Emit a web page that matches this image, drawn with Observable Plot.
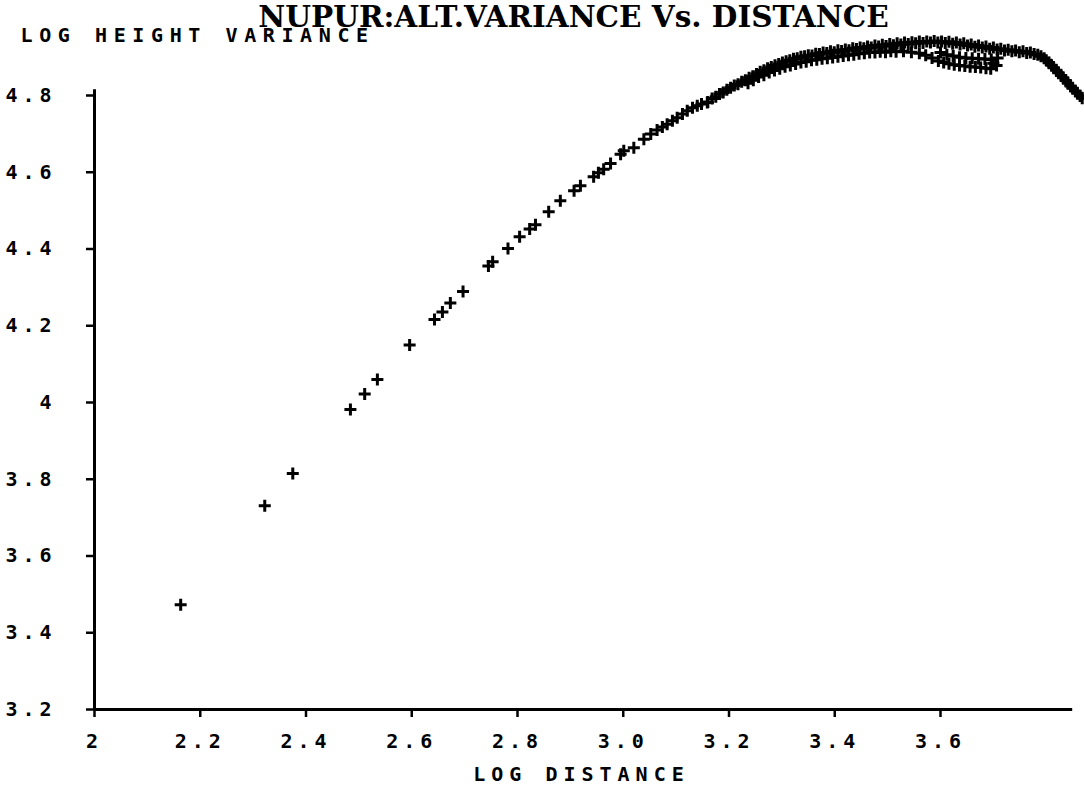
<!DOCTYPE html>
<html><head><meta charset="utf-8">
<script src="https://cdn.jsdelivr.net/npm/d3@7"></script>
<script src="https://cdn.jsdelivr.net/npm/@observablehq/plot@0.6"></script>
<style>
html,body{margin:0;padding:0;background:#fff;}
#chart svg{display:block;}
</style></head><body><div id="chart"></div>
<script>
const titleText = "NUPUR:ALT.VARIANCE Vs. DISTANCE";
const xTitle = "LOG DISTANCE";
const yTitle = "LOG HEIGHT VARIANCE";
const xTicks = [2, 2.2, 2.4, 2.6, 2.8, 3.0, 3.2, 3.4, 3.6];
const xTickLabels = ["2", "2.2", "2.4", "2.6", "2.8", "3.0", "3.2", "3.4", "3.6"];
const yTicks = [3.2, 3.4, 3.6, 3.8, 4.0, 4.2, 4.4, 4.6, 4.8];
const yTickLabels = ["3.2", "3.4", "3.6", "3.8", "4", "4.2", "4.4", "4.6", "4.8"];
const xAxisExtent = [2, 3.85];
const yAxisExtent = [3.2, 4.815];

const sparsePoints = [
  [2.163, 3.473], [2.322, 3.731], [2.375, 3.815], [2.484, 3.982], [2.511, 4.022],
  [2.535, 4.060], [2.596, 4.150], [2.643, 4.216], [2.658, 4.236], [2.673, 4.259],
  [2.697, 4.289], [2.745, 4.356], [2.753, 4.367]
];
const risingPoints = [
  [2.782, 4.401], [2.804, 4.432], [2.823, 4.452], [2.834, 4.463], [2.859, 4.497],
  [2.881, 4.526], [2.907, 4.552], [2.919, 4.565], [2.944, 4.588], [2.953, 4.599],
  [2.963, 4.608], [2.976, 4.623], [2.995, 4.647], [3.001, 4.656], [3.020, 4.664],
  [3.039, 4.686], [3.052, 4.700], [3.064, 4.710], [3.074, 4.718], [3.083, 4.725],
  [3.093, 4.734], [3.102, 4.742], [3.112, 4.752], [3.121, 4.760], [3.131, 4.768],
  [3.140, 4.773], [3.148, 4.778], [3.159, 4.782]
];
const upperRowPoints = [
  [3.160, 4.783], [3.168, 4.792], [3.175, 4.797], [3.182, 4.804], [3.189, 4.808],
  [3.196, 4.815], [3.203, 4.820], [3.210, 4.826], [3.217, 4.829], [3.224, 4.836],
  [3.231, 4.840], [3.238, 4.846], [3.245, 4.850], [3.252, 4.856], [3.259, 4.862],
  [3.266, 4.866], [3.273, 4.871], [3.280, 4.874], [3.287, 4.879], [3.294, 4.882],
  [3.301, 4.886], [3.308, 4.889], [3.315, 4.892], [3.322, 4.896], [3.329, 4.897],
  [3.336, 4.901], [3.343, 4.902], [3.350, 4.905], [3.357, 4.904], [3.364, 4.909],
  [3.371, 4.908], [3.378, 4.912], [3.385, 4.911], [3.392, 4.915], [3.399, 4.913],
  [3.406, 4.918], [3.413, 4.916], [3.420, 4.920], [3.427, 4.918], [3.434, 4.923],
  [3.441, 4.921], [3.448, 4.925], [3.455, 4.923], [3.462, 4.928], [3.469, 4.925],
  [3.476, 4.930], [3.483, 4.928], [3.490, 4.932], [3.497, 4.929], [3.504, 4.934],
  [3.511, 4.931], [3.518, 4.936], [3.525, 4.933], [3.532, 4.938], [3.539, 4.934],
  [3.546, 4.939], [3.553, 4.936], [3.560, 4.941], [3.567, 4.937], [3.574, 4.941],
  [3.581, 4.938], [3.588, 4.942], [3.595, 4.938], [3.602, 4.941], [3.609, 4.937],
  [3.616, 4.940], [3.623, 4.935], [3.630, 4.938], [3.637, 4.933], [3.644, 4.936],
  [3.651, 4.930], [3.658, 4.933], [3.665, 4.927], [3.672, 4.930], [3.679, 4.925],
  [3.686, 4.928], [3.693, 4.922], [3.700, 4.925], [3.707, 4.920], [3.714, 4.922],
  [3.721, 4.917], [3.728, 4.919], [3.735, 4.915], [3.742, 4.917], [3.749, 4.913],
  [3.756, 4.915], [3.763, 4.911], [3.770, 4.912], [3.777, 4.908], [3.784, 4.906],
  [3.790, 4.902], [3.796, 4.897]
];
const middleRowPoints = [
  [3.600, 4.912], [3.612, 4.906], [3.624, 4.903], [3.636, 4.900], [3.648, 4.898],
  [3.660, 4.897], [3.672, 4.896], [3.684, 4.895], [3.696, 4.894], [3.708, 4.898]
];
const lowerRowPoints = [
  [3.236, 4.832], [3.246, 4.840], [3.256, 4.848], [3.266, 4.853], [3.276, 4.860],
  [3.286, 4.865], [3.296, 4.870], [3.306, 4.875], [3.316, 4.878], [3.326, 4.882],
  [3.336, 4.886], [3.346, 4.888], [3.356, 4.892], [3.366, 4.893], [3.376, 4.896],
  [3.386, 4.897], [3.396, 4.899], [3.406, 4.901], [3.416, 4.903], [3.426, 4.905],
  [3.436, 4.906], [3.446, 4.909], [3.456, 4.910], [3.466, 4.912], [3.476, 4.912],
  [3.486, 4.914], [3.496, 4.913], [3.506, 4.915], [3.516, 4.914], [3.530, 4.915],
  [3.545, 4.913], [3.560, 4.910], [3.572, 4.905], [3.584, 4.898], [3.596, 4.890],
  [3.606, 4.886], [3.616, 4.883], [3.626, 4.880], [3.636, 4.878], [3.646, 4.877],
  [3.656, 4.875], [3.666, 4.874], [3.676, 4.873], [3.686, 4.871], [3.695, 4.870],
  [3.700, 4.884], [3.706, 4.878]
];
const fallingPoints = [
  [3.800, 4.892], [3.805, 4.886], [3.810, 4.879], [3.814, 4.872], [3.819, 4.866],
  [3.823, 4.859], [3.828, 4.852], [3.832, 4.846], [3.837, 4.839], [3.841, 4.832],
  [3.846, 4.825], [3.850, 4.819], [3.855, 4.812], [3.859, 4.806], [3.864, 4.799],
  [3.868, 4.793]
];

const allPoints = [].concat(sparsePoints, risingPoints, upperRowPoints, middleRowPoints, lowerRowPoints, fallingPoints);
const xLabelMap = new Map(xTicks.map((t, i) => [t, xTickLabels[i]]));
const yLabelMap = new Map(yTicks.map((t, i) => [t, yTickLabels[i]]));

const plusSymbol = {
  draw(ctx, size) {
    const r = Math.sqrt(size / Math.PI);
    ctx.moveTo(-r, 0); ctx.lineTo(r, 0);
    ctx.moveTo(0, -r); ctx.lineTo(0, r);
  }
};

const mono = "'DejaVu Sans Mono', monospace";
const chart = Plot.plot({
  width: 1084, height: 795,
  marginLeft: 94, marginRight: 144, marginTop: 95, marginBottom: 86,
  style: {background: "white", color: "black", overflow: "visible"},
  x: {domain: [2, 3.6]},
  y: {domain: [3.2, 4.8]},
  marks: [
    Plot.ruleY([yAxisExtent[0]], {x1: xAxisExtent[0], x2: xAxisExtent[1], stroke: "black", strokeWidth: 3}),
    Plot.ruleX([xAxisExtent[0]], {y1: yAxisExtent[0], y2: yAxisExtent[1], stroke: "black", strokeWidth: 3}),
    Plot.axisX({ticks: xTicks, anchor: "bottom", tickSize: 8, tickPadding: 16, strokeWidth: 2.5,
      tickFormat: d => xLabelMap.get(d), fontSize: 20, fontFamily: mono, fontWeight: "bold", label: null}),
    Plot.axisY({ticks: yTicks, anchor: "left", tickSize: 8, tickPadding: 30, strokeWidth: 2.5,
      tickFormat: d => yLabelMap.get(d), fontSize: 20, fontFamily: mono, fontWeight: "bold", label: null}),
    Plot.dot(allPoints, {x: d => d[0], y: d => d[1], symbol: plusSymbol, r: 6, fill: "none",
      stroke: "black", strokeWidth: 3, clip: false}),
    Plot.text([yTitle], {frameAnchor: "top-left", textAnchor: "start", lineAnchor: "middle",
      dx: -74, dy: -60, fontSize: 20, fontFamily: mono, fontWeight: "bold", fill: "black"}),
    Plot.text([xTitle], {frameAnchor: "bottom", textAnchor: "middle", lineAnchor: "middle",
      dx: 64, dy: 65, fontSize: 20, fontFamily: mono, fontWeight: "bold", fill: "black"}),
    Plot.text([titleText], {frameAnchor: "top", textAnchor: "middle", lineAnchor: "middle",
      dx: 56, dy: -78, fontSize: 29.5, fontFamily: "'DejaVu Serif', serif", fontWeight: "bold", fill: "black"})
  ]
});
d3.select(chart).selectAll("text").each(function () {
  const t = this.textContent;
  if (t === titleText) return;
  if (t === yTitle) d3.select(this).attr("letter-spacing", 6.6);
  else if (t === xTitle) d3.select(this).attr("letter-spacing", 6);
  else d3.select(this).attr("letter-spacing", 5);
});
document.getElementById("chart").appendChild(chart);
</script></body></html>
